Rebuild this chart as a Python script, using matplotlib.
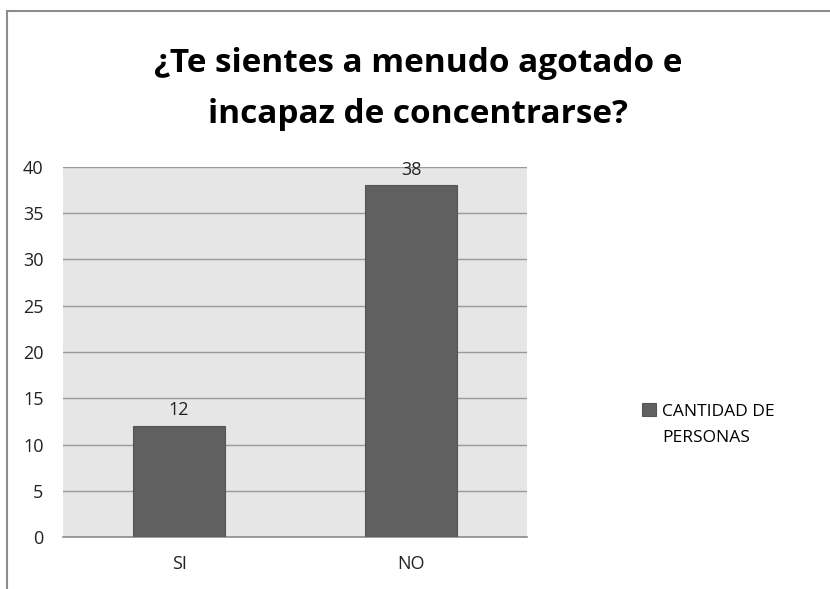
import matplotlib.pyplot as plt
from matplotlib.patches import Rectangle

categories = ["SI", "NO"]
values = [12, 38]
series_name = "CANTIDAD DE\nPERSONAS"
title = "¿Te sientes a menudo agotado e\nincapaz de concentrarse?"

plt.rcParams['font.family'] = ['Open Sans', 'DejaVu Sans']

fig = plt.figure(figsize=(8.3, 5.89), dpi=100)
fig.patches.append(Rectangle((7 / 830, -0.1), 1.2, 1 - 11 / 589 + 0.1,
                             transform=fig.transFigure, fill=False,
                             edgecolor="#8c8c8c", linewidth=1.5))

ax = fig.add_axes([63 / 830, 1 - 537 / 589, (527 - 63) / 830, (537 - 167) / 589])
ax.set_facecolor("#e6e6e6")

x = range(len(categories))
bars = ax.bar(x, values, width=0.4, color="#606060", edgecolor="#555555",
              linewidth=0.8, label=series_name, zorder=3)

for b, v in zip(bars, values):
    ax.annotate(str(v), (b.get_x() + b.get_width() / 2, v), xytext=(0, 5),
                textcoords="offset points", ha="center", va="bottom",
                fontsize=13, color="#222222")

ax.set_xlim(-0.5, 1.5)
ax.set_ylim(0, 40)
ax.set_yticks(range(0, 41, 5))
ax.set_xticks(list(x))
ax.set_xticklabels(categories)
ax.yaxis.grid(True, color="#9a9a9a", linewidth=1, zorder=0)
ax.set_axisbelow(True)
ax.tick_params(axis="both", length=0, labelsize=13, colors="#222222")
ax.tick_params(axis="x", pad=13)
ax.tick_params(axis="y", pad=14)
for s in ["top", "right", "left"]:
    ax.spines[s].set_visible(False)
ax.spines["bottom"].set_color("#8c8c8c")
ax.spines["bottom"].set_linewidth(1.2)

fig.text(418 / 830, 1 - 89 / 589, title, ha="center", va="center",
         fontsize=24, fontweight="bold", linespacing=1.75)

leg = fig.legend(handles=[bars], labels=[series_name], loc="center left",
                 bbox_to_anchor=(626 / 830, 1 - 425 / 589), frameon=False,
                 fontsize=12.5, handlelength=0.8, handleheight=0.8, handletextpad=0.4)
for t in leg.get_texts():
    t.set_linespacing(1.75)
# put the swatch next to the first line, like the original
for h in leg.legend_handles:
    h.set_y(h.get_y() + 11)

fig.savefig("out.png", dpi=100)
